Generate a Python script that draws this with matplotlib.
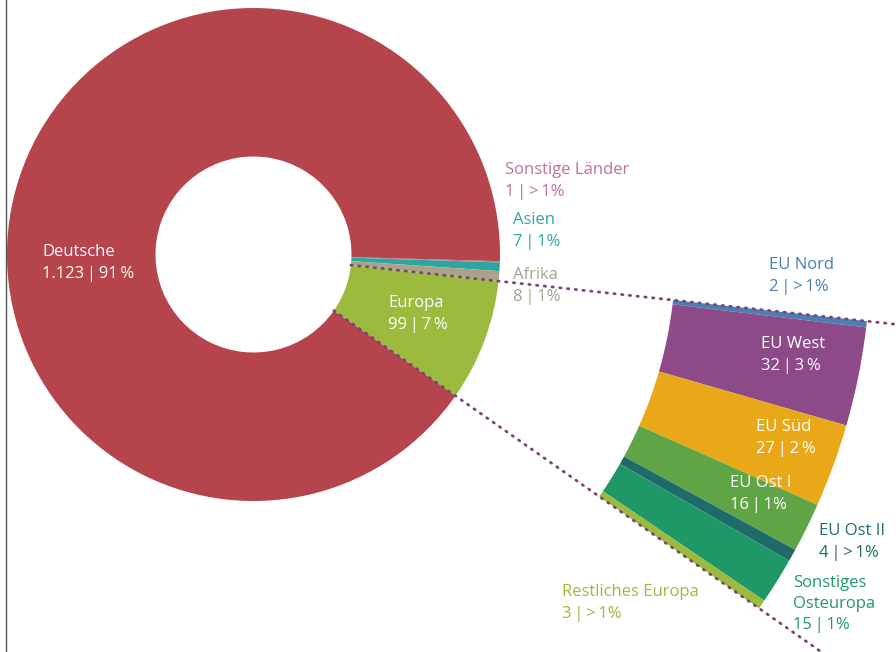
import matplotlib
matplotlib.use("Agg")
import matplotlib.pyplot as plt
import numpy as np
from matplotlib.lines import Line2D

plt.rcParams['font.family'] = ['Open Sans', 'DejaVu Sans']

S = "\u2009"  # thin space

# ---- data ----
main_labels = ["Sonstige Länder", "Asien", "Afrika", "Europa", "Deutsche"]
main_values = [1, 7, 8, 99, 1123]
main_texts = [f"1{S}|{S}>{S}1%", f"7{S}|{S}1%", f"8{S}|{S}1%", f"99{S}|{S}7{S}%", f"1.123{S}|{S}91{S}%"]
main_colors = ["#c47aa4", "#2ea6a0", "#a9a38b", "#9bba3e", "#b5444d"]

eu_labels = ["EU Nord", "EU West", "EU Süd", "EU Ost I", "EU Ost II",
             "Sonstiges\nOsteuropa", "Restliches Europa"]
eu_values = [2, 32, 27, 16, 4, 15, 3]
eu_texts = [f"2{S}|{S}>{S}1%", f"32{S}|{S}3{S}%", f"27{S}|{S}2{S}%", f"16{S}|{S}1%",
            f"4{S}|{S}>{S}1%", f"15{S}|{S}1%", f"3{S}|{S}>{S}1%"]
eu_colors = ["#4a7fb5", "#8c4a89", "#e8a817", "#5fa545", "#1f6b6b", "#1f9867", "#9bba3e"]

W, H = 896, 652
CX, CY = 253.5, 254.5

fig = plt.figure(figsize=(W / 100, H / 100), dpi=100)
ax = fig.add_axes([0, 0, 1, 1])

R_OUT, R_IN = 246.5, 98.0
START = -1.55

wedges, _ = ax.pie(main_values, colors=main_colors, radius=R_OUT, startangle=START,
                   counterclock=False, wedgeprops=dict(width=R_OUT - R_IN, linewidth=0))

# exploded Europa breakdown, same angular span as the Europa slice
R2_OUT, R2_IN = 617.0, 422.0
n_before = 3
full_vals = main_values[:n_before] + eu_values + main_values[n_before + 1:]
full_cols = ["none"] * n_before + eu_colors + ["none"] * (len(main_values) - n_before - 1)
ax.pie(full_vals, colors=full_cols, radius=R2_OUT, startangle=START,
       counterclock=False, wedgeprops=dict(width=R2_OUT - R2_IN, linewidth=0))

# dotted connector lines along Europa slice edges
eu_w = wedges[3]
for ang in (eu_w.theta1, eu_w.theta2):
    a = np.deg2rad(ang)
    r = np.array([R_IN, 900])
    ax.plot(r * np.cos(a), r * np.sin(a), color="#7a4576", lw=2.0,
            linestyle=(0, (0.5, 2.3)), dash_capstyle="round", zorder=5)

ax.set_xlim(-CX, W - CX)
ax.set_ylim(-(H - CY), CY)
ax.set_aspect("auto")
ax.axis("off")


def put(px, py, s, color):
    ax.text(px - CX, CY - py, s, color=color, fontsize=12, ha="left", va="center",
            linespacing=1.45, zorder=6)


# main labels (pixel positions of label block centers)
main_pos = [(505, 181), (513, 231), (513, 286), (388, 314), (42, 263)]
main_tcol = ["#c06fa0", "#2ea6a0", "#a9a38b", "white", "white"]
for (px, py), lab, t, c in zip(main_pos, main_labels, main_texts, main_tcol):
    put(px, py, lab + "\n" + t, c)

eu_pos = [(769, 276), (761, 355), (756, 438), (730, 494), (819, 542), (793, 604), (562, 603)]
eu_tcol = ["#4a7fb5", "white", "white", "white", "#1f6b6b", "#1f9867", "#9bba3e"]
for (px, py), lab, t, c in zip(eu_pos, eu_labels, eu_texts, eu_tcol):
    put(px, py, lab + "\n" + t, c)

fig.add_artist(Line2D([6 / W, 6 / W], [0, 1], color="#555555", lw=1.0))

fig.savefig("out.png", dpi=100)
